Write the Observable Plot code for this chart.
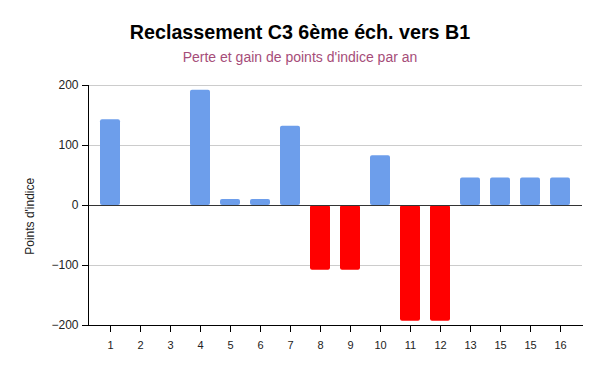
<!DOCTYPE html>
<html><head><meta charset="utf-8">
<script src="https://cdn.jsdelivr.net/npm/d3@7"></script>
<script src="https://cdn.jsdelivr.net/npm/@observablehq/plot@0.6"></script>
<style>
body{margin:0;background:#fff;font-family:"Liberation Sans",Arial,sans-serif;}
#t{position:relative;width:600px;height:70px;}
#t .a{position:absolute;top:21px;width:600px;text-align:center;font-weight:bold;font-size:19.7px;color:#000;}
#t .b{position:absolute;top:49px;width:600px;text-align:center;font-size:14px;color:#a64d79;}
</style></head><body>
<div id="t"><div class="a">Reclassement C3 6ème éch. vers B1</div><div class="b">Perte et gain de points d'indice par an</div></div>
<div id="c"></div>
<script>
const labels = ["1","2","3","4","5","6","7","8","9","10","11","12","13","15","15","16"];
const values = [143, 0, 0, 192, 10, 10, 132, -108, -108, 83, -193, -193, 46, 46, 46, 46];
const yTicks = [-200, -100, 0, 100, 200];
const blue = "#6d9eeb", red = "#ff0000";
const data = values.map((v, i) => ({i, v}));
const chart = Plot.plot({
  width: 600, height: 301,
  marginTop: 15, marginBottom: 46, marginLeft: 88, marginRight: 18,
  style: {fontFamily: "Liberation Sans, Arial, sans-serif", fontSize: "12px", color: "#222", background: "#fff"},
  x: {type: "band", domain: d3.range(labels.length), paddingInner: 0.34, paddingOuter: 0.18, label: null},
  y: {domain: [-200, 200], label: null},
  marks: [
    Plot.ruleY(yTicks.filter(d => d !== 0), {stroke: "#ccc"}),
    Plot.barY(data, {x: "i", y: "v", fill: d => d.v < 0 ? red : blue, rx: 2}),
    Plot.ruleY([0], {stroke: "#333"}),
    Plot.axisY({ticks: yTicks, tickSize: 6, tickPadding: 4, fontSize: 12, stroke: "#000", strokeOpacity: 1, label: null}),
    Plot.axisX({tickFormat: i => labels[i], tickSize: 7, tickPadding: 9, fontSize: 11, stroke: "#000", strokeOpacity: 1, label: null}),
    Plot.frame({anchor: "left", stroke: "#000"}),
    Plot.frame({anchor: "bottom", stroke: "#000"}),
    Plot.text(["Points d'indice"], {frameAnchor: "left", y: () => -18, dx: -58, rotate: -90, textAnchor: "middle", fontSize: 12, fill: "#222"})
  ]
});
document.getElementById("c").appendChild(chart);
</script></body></html>
